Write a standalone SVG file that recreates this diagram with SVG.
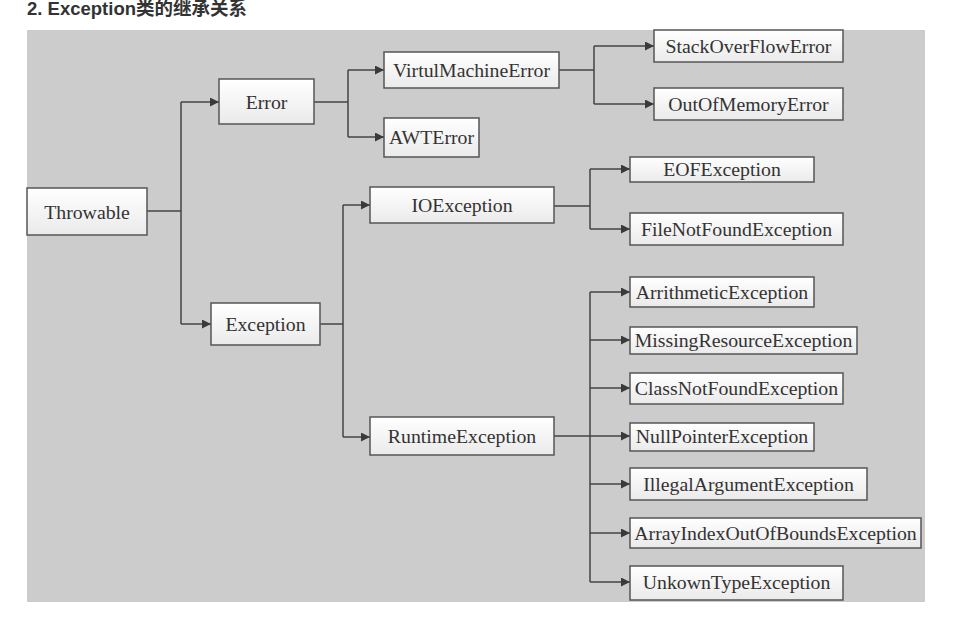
<svg xmlns="http://www.w3.org/2000/svg" width="959" height="617" viewBox="0 0 959 617">
<defs>
<linearGradient id="bx" x1="0" y1="0" x2="0" y2="1">
<stop offset="0" stop-color="#ffffff"/>
<stop offset="1" stop-color="#eaeaea"/>
</linearGradient>
<marker id="ar" viewBox="0 0 10 10" refX="10" refY="5" markerWidth="11" markerHeight="9" markerUnits="userSpaceOnUse" orient="auto">
<path d="M0,0 L10,5 L0,10 Z" fill="#3a3a3a"/>
</marker>
<style>
.n rect{fill:url(#bx);stroke:#555;stroke-width:1.5}
.n text{font-family:"Liberation Serif","Times New Roman",serif;font-size:19.8px;fill:#333;text-anchor:middle;dominant-baseline:central}
.c path{fill:none;stroke:#444;stroke-width:1.5}
.c path.a{marker-end:url(#ar)}
.title{font-family:"Liberation Sans","Noto Sans CJK SC",sans-serif;font-weight:bold;font-size:18.5px;fill:#333}
</style>
</defs>
<rect x="0" y="0" width="959" height="617" fill="#ffffff"/>
<text class="title" x="27" y="15">2. Exception类的继承关系</text>
<rect x="27" y="30" width="898" height="572" fill="#cccccc"/>
<g class="c" id="connectors">
<path d="M147,211 H181"/>
<path d="M181,102 V324"/>
<path class="a" d="M181,102 H219"/>
<path class="a" d="M181,324 H211"/>
<path d="M314,102 H348"/>
<path d="M348,70 V137"/>
<path class="a" d="M348,70 H384"/>
<path class="a" d="M348,137 H384"/>
<path d="M559,70 H594"/>
<path d="M594,46 V104"/>
<path class="a" d="M594,46 H654"/>
<path class="a" d="M594,104 H654"/>
<path d="M320,324 H343"/>
<path d="M343,205 V437"/>
<path class="a" d="M343,205 H370"/>
<path class="a" d="M343,437 H370"/>
<path d="M554,206 H590"/>
<path d="M590,169 V229"/>
<path class="a" d="M590,169 H630"/>
<path class="a" d="M590,229 H630"/>
<path d="M554,436 H590"/>
<path d="M590,292 V582"/>
<path class="a" d="M590,292 H630"/>
<path class="a" d="M590,340 H630"/>
<path class="a" d="M590,388 H630"/>
<path class="a" d="M590,436 H630"/>
<path class="a" d="M590,484 H630"/>
<path class="a" d="M590,533 H630"/>
<path class="a" d="M590,582 H630"/>
</g>
<g class="n" id="throwable"><rect x="27" y="188" width="120" height="47"/><text x="87" y="211.5">Throwable</text></g>
<g class="n" id="error"><rect x="219" y="79" width="95" height="45"/><text x="266.5" y="101.5">Error</text></g>
<g class="n" id="exception"><rect x="211" y="303" width="109" height="42"/><text x="265.5" y="324">Exception</text></g>
<g class="n" id="virtualmachineerror"><rect x="384" y="52" width="175" height="36"/><text x="471.5" y="70">VirtulMachineError</text></g>
<g class="n" id="awterror"><rect x="384" y="118" width="95" height="39"/><text x="431.5" y="137">AWTError</text></g>
<g class="n" id="stackoverflowerror"><rect x="654" y="30" width="189" height="32"/><text x="748.5" y="46">StackOverFlowError</text></g>
<g class="n" id="outofmemoryerror"><rect x="654" y="88" width="189" height="32"/><text x="748.5" y="104">OutOfMemoryError</text></g>
<g class="n" id="ioexception"><rect x="370" y="187" width="184" height="36"/><text x="462" y="205">IOException</text></g>
<g class="n" id="runtimeexception"><rect x="370" y="417" width="184" height="38"/><text x="462" y="436">RuntimeException</text></g>
<g class="n" id="eofexception"><rect x="630" y="157" width="184" height="25"/><text x="722" y="169">EOFException</text></g>
<g class="n" id="filenotfoundexception"><rect x="630" y="213" width="213" height="32"/><text x="736.5" y="229">FileNotFoundException</text></g>
<g class="n" id="arithmeticexception"><rect x="630" y="277" width="184" height="30"/><text x="722" y="292">ArrithmeticException</text></g>
<g class="n" id="missingresourceexception"><rect x="630" y="327" width="227" height="27"/><text x="743.5" y="340">MissingResourceException</text></g>
<g class="n" id="classnotfoundexception"><rect x="630" y="373" width="213" height="31"/><text x="736.5" y="388">ClassNotFoundException</text></g>
<g class="n" id="nullpointerexception"><rect x="630" y="423" width="184" height="28"/><text x="722" y="436">NullPointerException</text></g>
<g class="n" id="illegalargumentexception"><rect x="630" y="468" width="237" height="32"/><text x="748.5" y="484">IllegalArgumentException</text></g>
<g class="n" id="arrayindexoutofboundsexception"><rect x="630" y="518" width="291" height="30"/><text x="775.5" y="533">ArrayIndexOutOfBoundsException</text></g>
<g class="n" id="unkowntypeexception"><rect x="630" y="566" width="213" height="34"/><text x="736.5" y="582">UnkownTypeException</text></g>
</svg>
